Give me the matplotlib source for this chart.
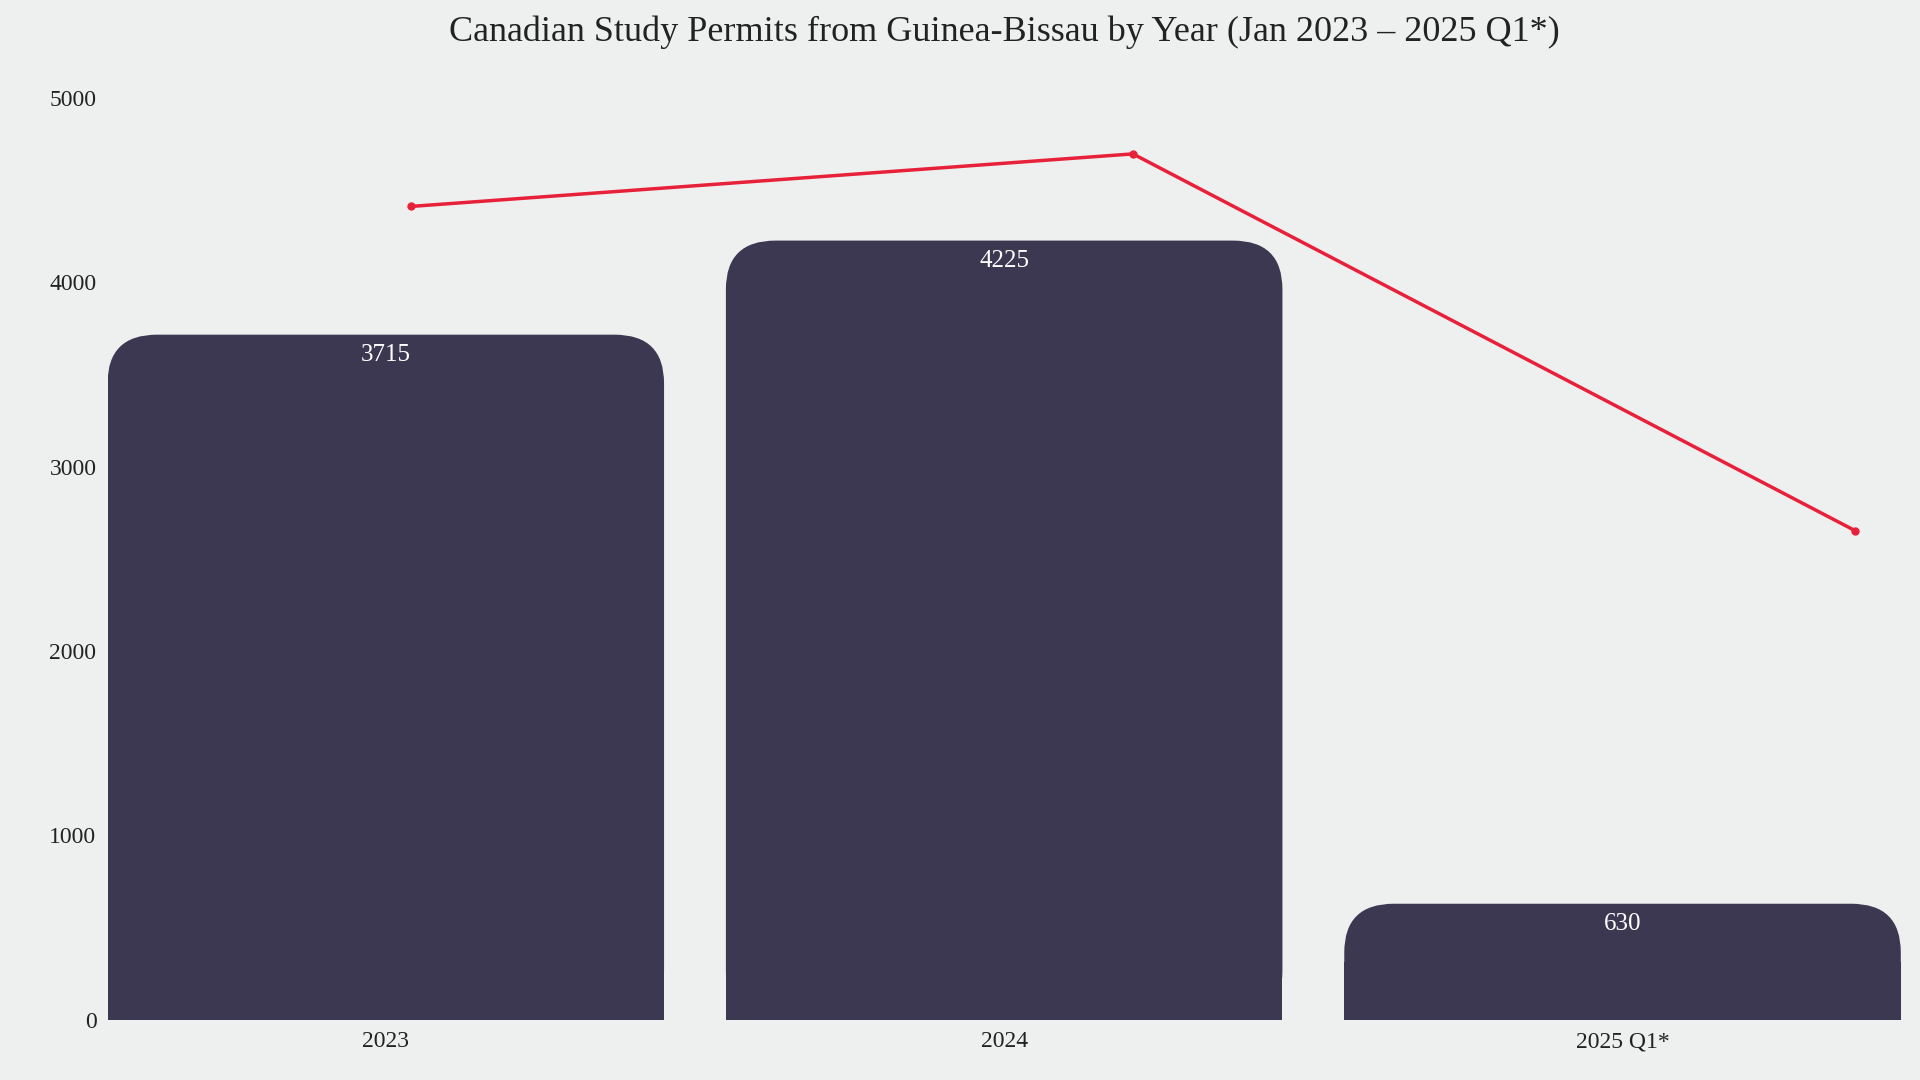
import matplotlib
matplotlib.use("Agg")
import matplotlib.pyplot as plt
from matplotlib.patches import FancyBboxPatch, Rectangle

categories = ["2023", "2024", "2025 Q1*"]
permits = [3715, 4225, 630]
trend = [4410, 4695, 2652]
yticks = [0, 1000, 2000, 3000, 4000, 5000]

bg = "#eef0ef"
bar_c = "#3d3852"
line_c = "#e8213a"
plt.rcParams["font.family"] = ["Liberation Serif", "DejaVu Serif"]

fig = plt.figure(figsize=(19.2, 10.8), dpi=100, facecolor=bg)
ax = fig.add_axes([0.056, 0.0556, 0.934, 0.854])
ax.set_facecolor(bg)
ax.set_xlim(-0.45, 2.45)
ax.set_ylim(0, 5000)
w = 0.9
for i, v in enumerate(permits):
    r = min(0.08, w / 2)
    ax.add_patch(FancyBboxPatch((i - w / 2, 0), w, v,
                 boxstyle="round,pad=0,rounding_size=0.08",
                 mutation_aspect=3300, fc=bar_c, ec="none", zorder=2))
    ax.add_patch(Rectangle((i - w / 2, 0), w, v / 2, fc=bar_c, ec="none", zorder=2))
    ax.text(i, v - 110, str(v), ha="center", va="center", color="white",
            fontsize=18, zorder=3)
ax.set_xticks(range(len(categories)))
ax.set_xticklabels(categories)
ax.set_yticks(yticks)
ax.tick_params(length=0, labelsize=17, colors="#222222", pad=8)
for s in ax.spines.values():
    s.set_visible(False)

ax2 = ax.twiny()
ax2.set_xlim(-0.4195, 2.063)
ax2.plot(range(len(trend)), trend, color=line_c, lw=2.5, marker="o", ms=5, zorder=4)
ax2.set_xticks([])
for s in ax2.spines.values():
    s.set_visible(False)

fig.text(0.523, 0.97, "Canadian Study Permits from Guinea-Bissau by Year (Jan 2023 – 2025 Q1*)",
         ha="center", va="center", fontsize=26, color="#222222")
fig.savefig("out.png", dpi=100, facecolor=bg)
